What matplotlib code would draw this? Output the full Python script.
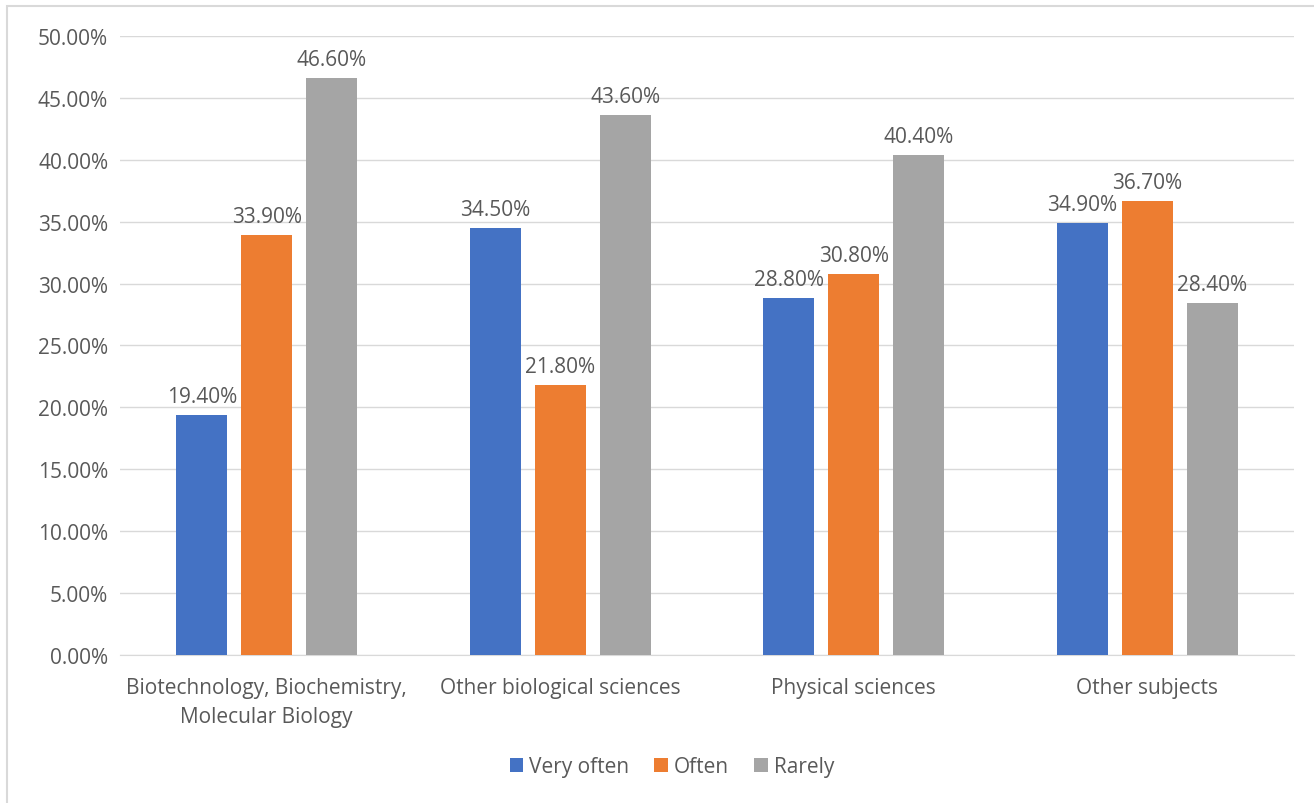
import numpy as np
import matplotlib.pyplot as plt
from matplotlib.patches import Rectangle
from matplotlib.ticker import FuncFormatter

categories = ['Biotechnology, Biochemistry,\nMolecular Biology', 'Other biological sciences',
              'Physical sciences', 'Other subjects']
series = ['Very often', 'Often', 'Rarely']
very_often = [19.4, 34.5, 28.8, 34.9]
often = [33.9, 21.8, 30.8, 36.7]
rarely = [46.6, 43.6, 40.4, 28.4]
colors = ['#4472c4', '#ed7d31', '#a5a5a5']

plt.rcParams['font.family'] = ['Open Sans', 'DejaVu Sans']
text_color = '#595959'
fs = 15

fig = plt.figure(figsize=(13.14, 8.04), dpi=100)
ax = fig.add_axes([0.0913, 0.1841, 0.8935, 0.7699])

x = np.arange(len(categories))
step = 0.2215
width = 0.174
for i, (name, vals) in enumerate(zip(series, [very_often, often, rarely])):
    pos = x + (i - 1) * step
    ax.bar(pos, vals, width, color=colors[i], label=name, zorder=3)
    for p, v in zip(pos, vals):
        ax.text(p, v + 0.65, f'{v:.2f}%', ha='center', va='bottom',
                fontsize=fs, color=text_color)

ax.set_xlim(-0.5, len(categories) - 0.5)
ax.set_ylim(0, 50)
ax.set_yticks(np.arange(0, 50.1, 5))
ax.yaxis.set_major_formatter(FuncFormatter(lambda v, _: f'{v:.2f}%'))
ax.set_xticks(x)
ax.set_xticklabels(categories, linespacing=1.55)
ax.grid(axis='y', color='#d9d9d9', linewidth=1, zorder=0)
for s in ['top', 'right', 'left']:
    ax.spines[s].set_visible(False)
ax.spines['bottom'].set_color('#d9d9d9')
ax.tick_params(axis='both', length=0, labelsize=fs, labelcolor=text_color)
ax.tick_params(axis='y', pad=8.5)
ax.tick_params(axis='x', pad=15.5)

ax.legend(loc='center', bbox_to_anchor=(672 / 1314, (804 - 768) / 804), bbox_transform=fig.transFigure,
          ncol=3, frameon=False, fontsize=fs, handlelength=0.65, handleheight=0.65,
          handletextpad=0.3, columnspacing=1.2, labelcolor=text_color)

# light frame along the top and left edges
fig.patches.append(Rectangle((7 / 1314, -0.01), 1.02, 1 - 7 / 804 + 0.01, transform=fig.transFigure,
                             fill=False, edgecolor='#d9d9d9', linewidth=1.5))

fig.savefig('out.png', dpi=100)
